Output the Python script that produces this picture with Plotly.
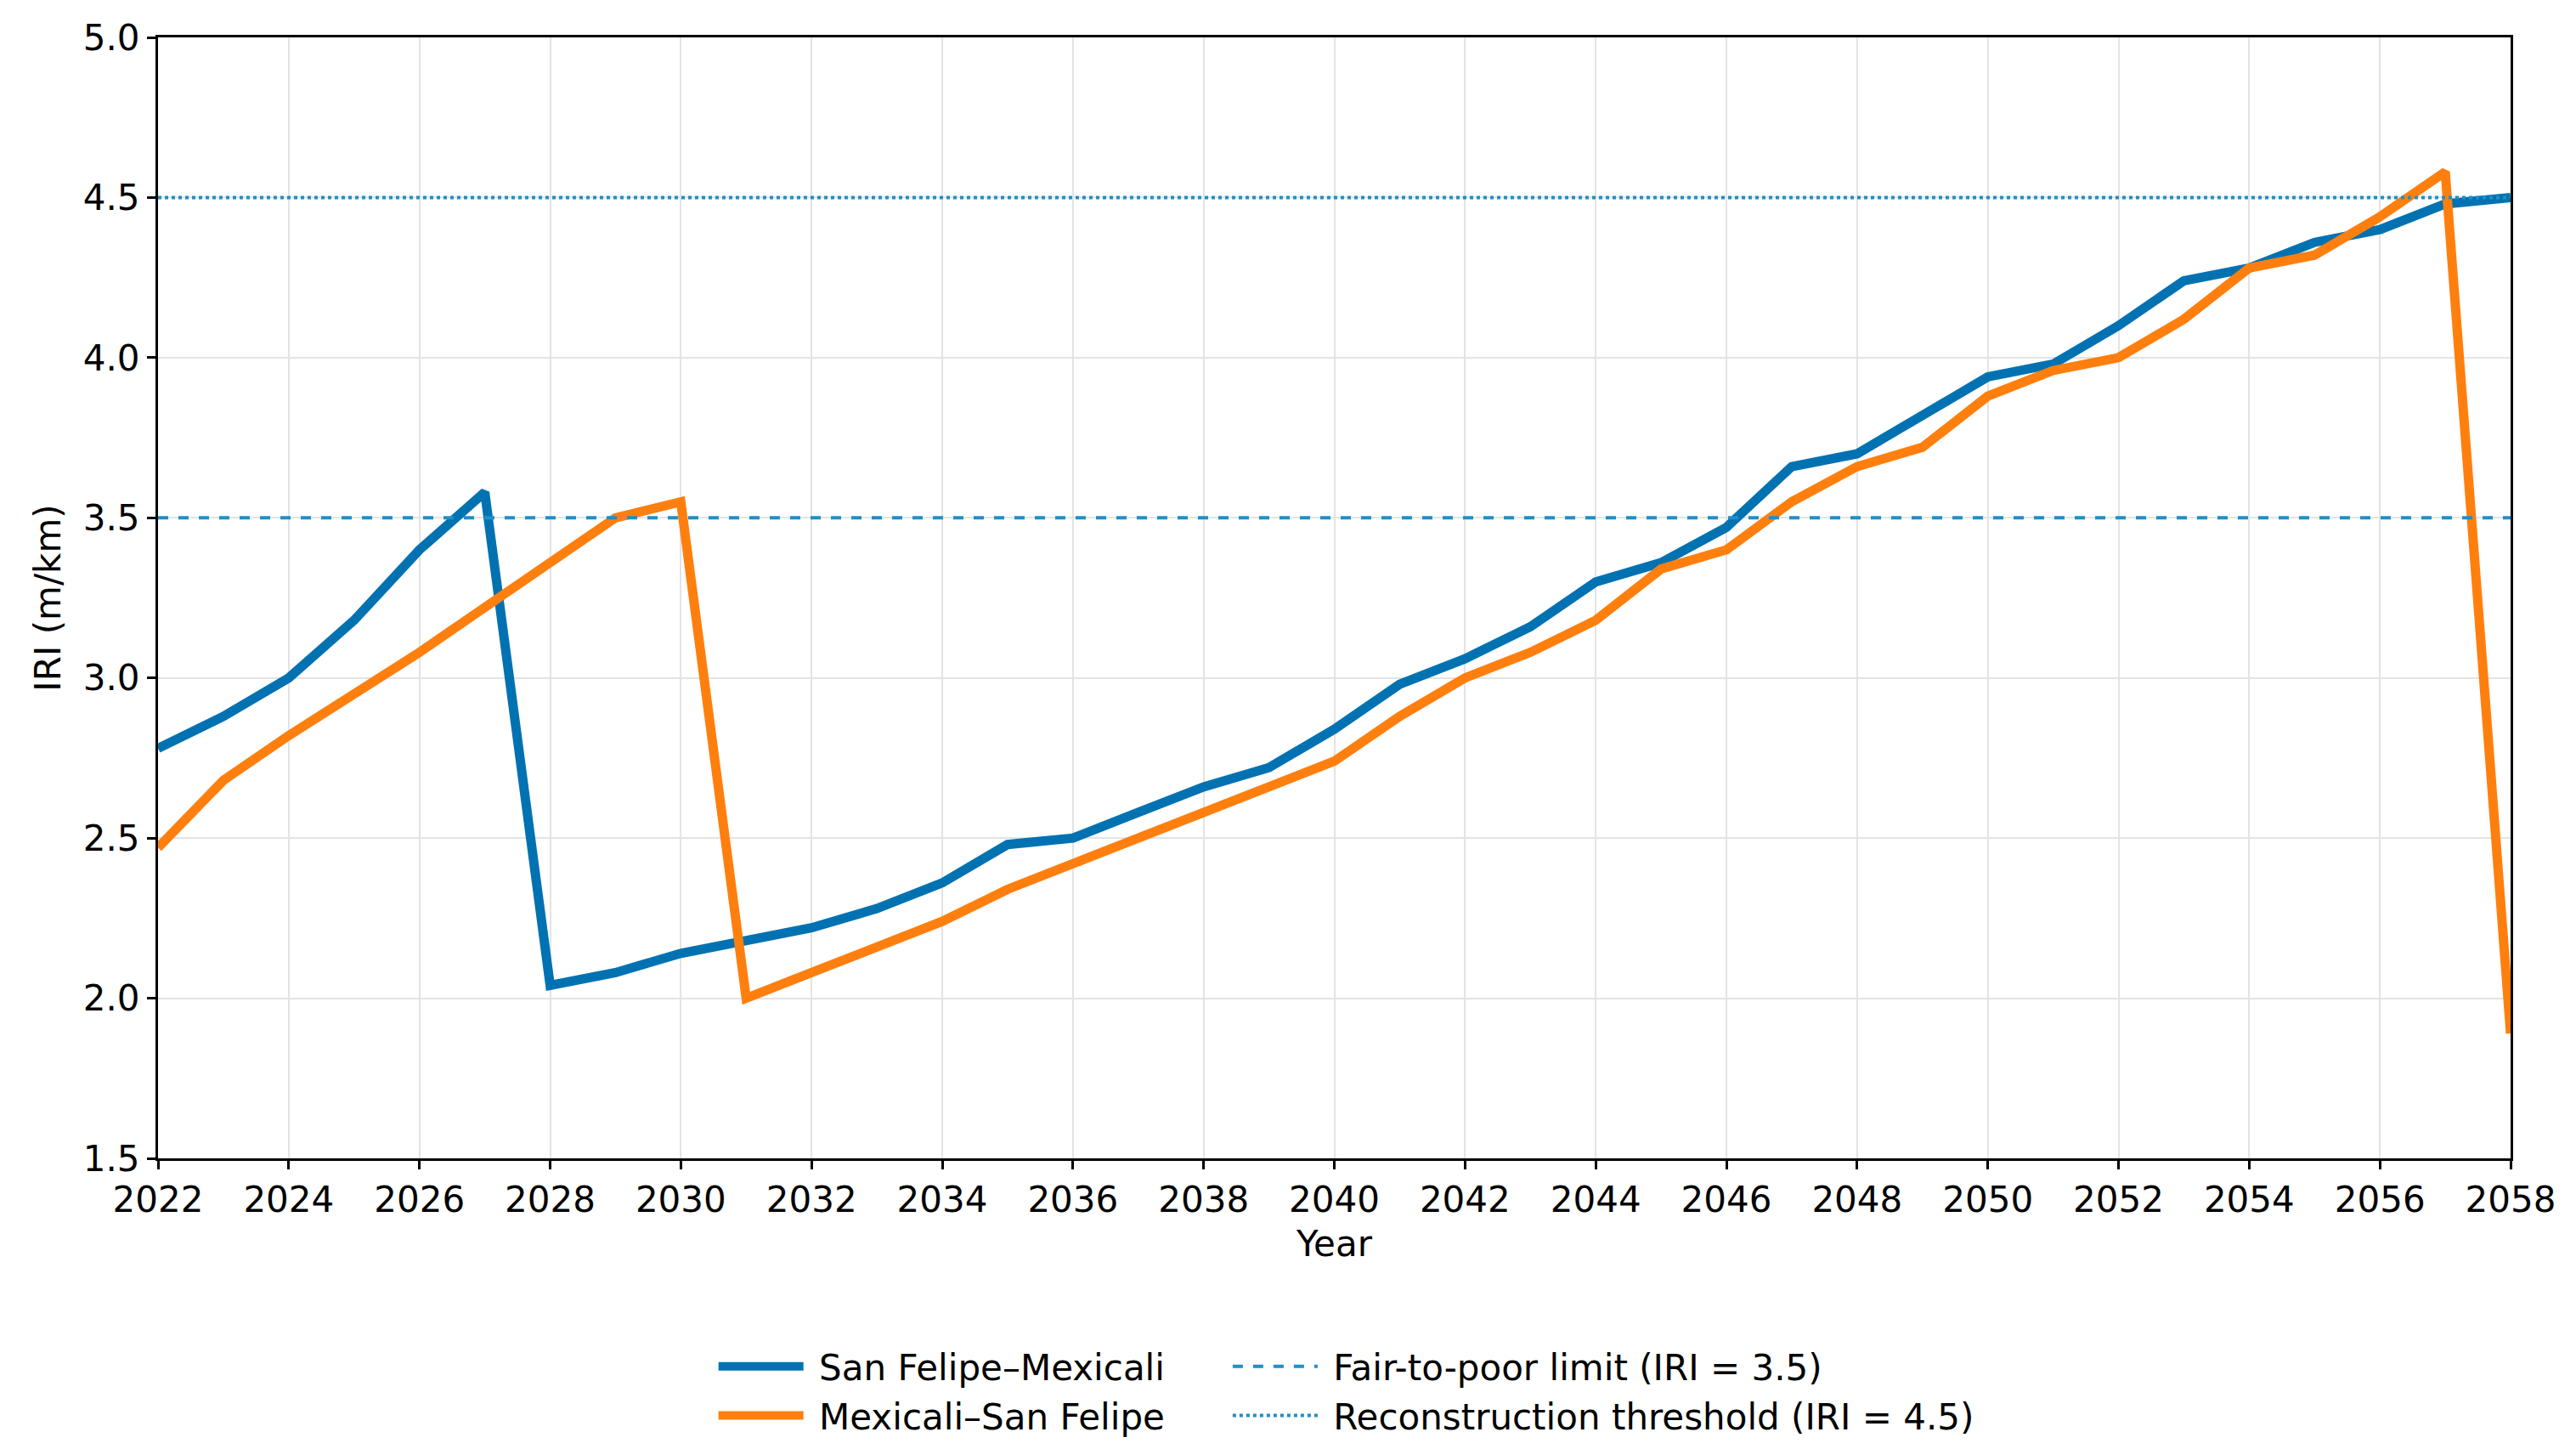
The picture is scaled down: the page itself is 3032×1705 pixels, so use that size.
import plotly.graph_objects as go

years = list(range(2022, 2059))

# IRI (m/km) por año
iri_sf_mexicali = [
    2.78, 2.88, 3.00, 3.18, 3.40, 3.58, 2.04, 2.08, 2.14, 2.18,
    2.22, 2.28, 2.36, 2.48, 2.50, 2.58, 2.66, 2.72, 2.84, 2.98,
    3.06, 3.16, 3.30, 3.36, 3.47, 3.66, 3.70, 3.82, 3.94, 3.98,
    4.10, 4.24, 4.28, 4.36, 4.40, 4.48, 4.50,
]
iri_mexicali_sf = [
    2.47, 2.68, 2.82, 2.95, 3.08, 3.22, 3.36, 3.50, 3.55, 2.00,
    2.08, 2.16, 2.24, 2.34, 2.42, 2.50, 2.58, 2.66, 2.74, 2.88,
    3.00, 3.08, 3.18, 3.34, 3.40, 3.55, 3.66, 3.72, 3.88, 3.96,
    4.00, 4.12, 4.28, 4.32, 4.44, 4.58, 1.89,
]

fair_to_poor = 3.5
reconstruction = 4.5

BLUE = "#0072b2"
ORANGE = "#ff7f0e"
LINE_BLUE = "#1f8fc8"

fig = go.Figure()

fig.add_trace(go.Scatter(
    x=years, y=iri_sf_mexicali, mode="lines", name=" San Felipe–Mexicali",
    line=dict(color=BLUE, width=11), legend="legend",
))
fig.add_trace(go.Scatter(
    x=years, y=iri_mexicali_sf, mode="lines", name=" Mexicali–San Felipe",
    line=dict(color=ORANGE, width=11), legend="legend",
))
fig.add_trace(go.Scatter(
    x=[years[0], years[-1]], y=[fair_to_poor, fair_to_poor], mode="lines",
    name=" Fair-to-poor limit (IRI = 3.5)",
    line=dict(color=LINE_BLUE, width=4, dash="dash"), legend="legend2",
))
fig.add_trace(go.Scatter(
    x=[years[0], years[-1]], y=[reconstruction, reconstruction], mode="lines",
    name=" Reconstruction threshold (IRI = 4.5)",
    line=dict(color=LINE_BLUE, width=4, dash="dot"), legend="legend2",
))

axis_common = dict(
    showline=True, linecolor="black", linewidth=3, mirror=True,
    ticks="outside", ticklen=10, tickwidth=3, tickcolor="black",
    showgrid=True, gridcolor="#e3e3e3", gridwidth=2, zeroline=False,
    tickfont=dict(size=42, color="black"),
)

fig.update_layout(
    width=3032, height=1705,
    paper_bgcolor="white", plot_bgcolor="white",
    font=dict(family="DejaVu Sans", color="black", size=42),
    margin=dict(l=178, r=85, t=33, b=350),
    xaxis=dict(range=[2022, 2058], dtick=2, title=dict(text="Year", font=dict(size=42), standoff=14), **axis_common),
    yaxis=dict(range=[1.5, 5.0], dtick=0.5, tickformat=".1f", title=dict(text="IRI (m/km)", font=dict(size=42), standoff=14), **axis_common),
    legend=dict(x=0.43, y=-0.16, xanchor="right", yanchor="top",
                font=dict(size=42), bgcolor="rgba(0,0,0,0)", itemwidth=100, tracegroupgap=0),
    legend2=dict(x=0.455, y=-0.16, xanchor="left", yanchor="top",
                 font=dict(size=42), bgcolor="rgba(0,0,0,0)", itemwidth=100, tracegroupgap=0),
)

fig.write_html("out.html")
